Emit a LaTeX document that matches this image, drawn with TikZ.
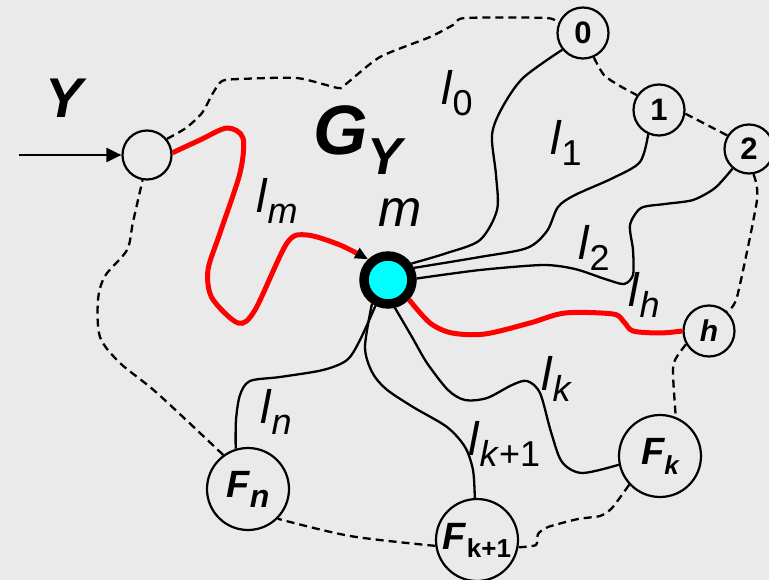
\documentclass[tikz,border=0pt]{standalone}
\usepackage{fontspec}
\setmainfont{Liberation Sans}
\usetikzlibrary{arrows.meta}
\definecolor{bgray}{RGB}{234,234,234}
\definecolor{hubcyan}{RGB}{0,255,255}

\newcommand{\lsub}[1]{\textit{l}\raisebox{-11pt}{\fontsize{36}{36}\selectfont #1}}

\begin{document}
\begin{tikzpicture}[
        x=1pt, y=-1pt,
        vertex/.style={circle, draw, line width=2.2pt, fill=bgray, inner sep=0pt, minimum size=51pt},
        bigvertex/.style={vertex, minimum size=82pt},
        hub/.style={circle, draw, line width=9.5pt, fill=hubcyan, inner sep=0pt, minimum size=48pt},
        link/.style={line width=2.3pt},
        hot/.style={line width=5pt, red},
        rim/.style={line width=2.3pt, dash pattern=on 8pt off 5pt},
        lbl/.style={anchor=base west, inner sep=0pt, font=\fontsize{47}{47}\selectfont}
    ]
        \useasboundingbox[fill=bgray] (0,0) rectangle (769,580);

        % Nodes
        \node[vertex, minimum size=49pt] (in) at (147,155) {};
        \node[vertex, font=\fontsize{31}{31}\selectfont\bfseries] (n0) at (583,33) {0};
        \node[vertex, font=\fontsize{31}{31}\selectfont\bfseries] (n1) at (659,110) {1};
        \node[vertex, minimum size=49pt, font=\fontsize{31}{31}\selectfont\bfseries] (n2) at (749,149) {2};
        \node[vertex, font=\fontsize{30}{30}\selectfont\bfseries\itshape] (nh) at (709,331) {h};
        \node[hub] (m) at (388,280) {};
        \node[bigvertex, font=\fontsize{38}{38}\selectfont\bfseries\itshape] (fn) at (248,489)
            {F\raisebox{-10pt}{\fontsize{32}{32}\selectfont n}};
        \node[bigvertex, font=\fontsize{38}{38}\selectfont\bfseries\itshape] (fk) at (660,456)
            {F\raisebox{-10pt}{\fontsize{26}{26}\selectfont k}};
        \node[bigvertex, font=\fontsize{38}{38}\selectfont\bfseries] (fk1) at (477,540)
            {\textit{F}\raisebox{-8pt}{\fontsize{26}{26}\selectfont k+1}};

        % Input
        \coordinate (src) at (19,155);
        \draw[link, -{Triangle[length=15pt,width=14pt]}] (src) -- (in);

        % Boundary of G_Y
        \draw[rim] plot[smooth, tension=0.4] coordinates {(in.39) (186,128) (202,113) (213,93) (222,81) (240,79) (297,78) (338,88) (346,84) (380,57) (430,37) (453,25) (465,18) (547,18) (n0.160)};
        \draw[rim] plot[smooth] coordinates {(n0.-66) (604,75) (620,86) (n1.146)};
        \draw[rim] (n1.-8) -- (n2.148);
        \draw[rim] plot[smooth, tension=0.4] coordinates {(n2.-80) (757,200) (737,297) (nh.48)};
        \draw[rim] plot[smooth] coordinates {(nh.-150) (675,360) (673,374) (fk.68)};
        \draw[rim] plot[smooth, tension=0.4] coordinates {(fk.-137) (612,508) (600,516) (578,519) (548,527) (538,534) (536,545) (fk1.-10)};
        \draw[rim] plot[smooth] coordinates {(fk1.-172) (350,536) (fn.-45)};
        \draw[rim] plot[smooth] coordinates {(fn.126) (157,393) (120,363) (100,337) (98,300) (105,276) (127,250) (133,222) (in.-100)};

        % Links to m
        \draw[link] plot[smooth] coordinates {(m.35) (447,253) (480,240) (497,210) (496,175) (492,135) (502,108) (523,78) (n0.-141)};
        \draw[link] plot[smooth] coordinates {(m.25) (480,257) (527,248) (547,231) (558,207) (575,195) (613,178) (640,162) (n1.-114)};
        \draw[link] plot[smooth, tension=0.45] coordinates {(m.3) (480,270) (543,265) (575,269) (605,279) (624,284) (633,275) (633,250) (630,225) (641,208) (665,204) (693,200) (715,188) (n2.-130)};
        \draw[link] plot[smooth] coordinates {(m.-76) (412,337) (427,363) (448,390) (465,400) (487,398) (512,385) (527,381) (540,393) (551,432) (562,462) (582,473) (fk.-168)};
        \draw[link] plot[smooth] coordinates {(m.-124) (365,347) (372,372) (386,389) (413,407) (447,427) (465,447) (473,470) (fk1.93)};
        \draw[link] plot[smooth] coordinates {(m.-116) (360,340) (347,360) (323,370) (280,377) (250,381) (240,395) (236,420) (fn.107)};

        % Red paths
        \draw[hot, -{Triangle[length=13pt,width=11pt,color=black,fill=black]}] plot[smooth] coordinates {(in.5) (200,140) (227,128) (243,138) (240,173) (220,233) (208,270) (212,298) (238,323) (255,310) (287,243) (307,235) (340,245) (m.134)};
        \draw[hot] plot[smooth] coordinates {(m.-43) (430,323) (452,333) (485,334) (530,323) (565,313) (613,314) (624,322) (633,331) (660,333) (nh.180)};

        % Labels
        \node[lbl, font=\fontsize{56}{56}\selectfont\bfseries\itshape] (ylbl) at (45,118) {Y};
        \node[lbl, font=\fontsize{70}{70}\selectfont\bfseries\itshape] (glbl) at (313,155)
            {G\raisebox{-20pt}{\fontsize{52}{52}\selectfont Y}};
        \node[lbl, font=\fontsize{52}{52}\selectfont\itshape] (mlbl) at (378,227) {m};
        \node[lbl] (llm) at (256,213) {\lsub{\textit{m}}};
        \node[lbl] (ll0) at (441,105) {\lsub{0}};
        \node[lbl] (ll1) at (550,155) {\lsub{1}};
        \node[lbl] (ll2) at (578,260) {\lsub{2}};
        \node[lbl] (llh) at (628,307) {\lsub{\textit{h}}};
        \node[lbl] (llk) at (541,390) {\lsub{\textit{k}}};
        \node[lbl] (lln) at (260,423) {\lsub{\textit{n}}};
        \node[lbl] (llk1) at (468,455) {\lsub{\textit{k}+1}};
    \end{tikzpicture}
\end{document}
